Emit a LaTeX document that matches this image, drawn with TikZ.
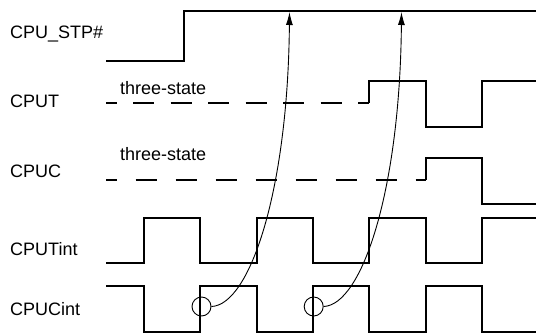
\documentclass[tikz,border=0pt]{standalone}
\usepackage{fontspec}
\setmainfont{Liberation Sans}
\usetikzlibrary{arrows.meta}
\begin{document}
\begin{tikzpicture}[x=1pt,y=-1pt,
  sig/.style={line width=2pt, line join=miter},
  tri/.style={line width=2pt, dash pattern=on 21pt off #1, dash phase=10.5pt},
  lbl/.style={anchor=base west, inner sep=0pt, font=\fontsize{18}{20}\selectfont},
  ring/.style={circle, draw, line width=0.9pt, minimum size=19pt, inner sep=0pt},
  cause/.style={line width=0.9pt, -{Latex[length=13pt,width=7pt]}}]
\useasboundingbox (0,0) rectangle (536,333);
% labels
\node[lbl] (lstp) at (10,38.5) {CPU\_STP\#};
\node[lbl] (lt) at (10,107) {CPUT};
\node[lbl] (lc) at (10,177) {CPUC};
\node[lbl] (lti) at (10,255) {CPUTint};
\node[lbl] (lci) at (10,315) {CPUCint};
\node[lbl] (ts1) at (120,94.5) {three-state};
\node[lbl] (ts2) at (120,160) {three-state};
% CPU_STP#
\draw[sig] (106,61) -| (184,11) -- (536,11);
% CPUT
\draw[tri=16.5pt] (106,103.3) -- (369.3,103.3);
\draw[sig] (369.3,103.3) |- (425.7,81) |- (482,126.5) |- (536,81);
% CPUC
\draw[tri=19pt] (106,180) -- (425.7,180);
\draw[sig] (425.7,180) |- (482,157.7) |- (536,204);
% CPUTint
\draw[sig] (106,263.3) -| (144,218.3) -| (200.3,263.3) -| (256.7,218.3) -| (313,263.3) -| (369.3,218.3) -| (425.7,263.3) -| (482,218.3) -- (536,218.3);
% CPUCint
\draw[sig] (106,286) -| (144,331.5) -| (200.3,286) -| (256.7,331.5) -| (313,286) -| (369.3,331.5) -| (425.7,286) -| (482,331.5) -- (536,331.5);
% causal arrows
\node[ring] (r1) at (201.5,306.5) {};
\node[ring] (r2) at (313.7,306.5) {};
\coordinate (a1) at (289.5,12);
\coordinate (a2) at (401.5,12);
\draw[cause] (r1.east) .. controls (250,305) and (288,190) .. (a1);
\draw[cause] (r2.east) .. controls (362,305) and (400,190) .. (a2);
\end{tikzpicture}
\end{document}
